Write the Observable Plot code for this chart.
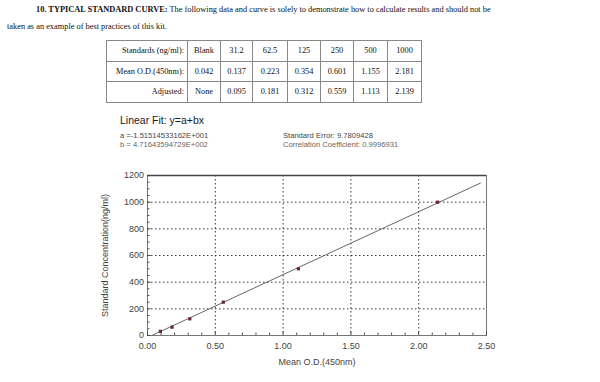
<!DOCTYPE html>
<html>
<head>
<meta charset="utf-8">
<script src="https://cdn.jsdelivr.net/npm/d3@7"></script>
<script src="https://cdn.jsdelivr.net/npm/@observablehq/plot@0.6"></script>
<style>
  html, body { margin: 0; padding: 0; background: #fff; }
  body { width: 600px; height: 382px; position: relative; overflow: hidden; }
  .serif { font-family: "Liberation Serif", "Times New Roman", serif; color: #111; }
  #l1 { position: absolute; left: 36px; top: 5px; font-size: 8.35px; white-space: nowrap; }
  #l2 { position: absolute; left: 7px; top: 22px; font-size: 8.35px; white-space: nowrap; }
  table { position: absolute; left: 106px; top: 40px; border-collapse: collapse; font-size: 8.3px; border: 1px solid #333; }
  td { border: 1px solid #888; height: 19.6px; padding: 0; text-align: center; }
  td.h { text-align: right; padding-right: 3px; }
  .sans { font-family: "Liberation Sans", Arial, sans-serif; color: #222; position: absolute; white-space: nowrap; }
  #fit { left: 120px; top: 114px; font-size: 10.5px; }
  #fa { left: 120px; top: 131px; font-size: 7.6px; color: #444; }
  #fb { left: 120px; top: 140px; font-size: 7.6px; color: #666; }
  #se { left: 283px; top: 131px; font-size: 7.6px; color: #444; }
  #cc { left: 283px; top: 140px; font-size: 7.6px; color: #666; }
  #chart { position: absolute; left: 0; top: 160px; }
</style>
</head>
<body>
<div id="l1" class="serif"><b>10. TYPICAL STANDARD CURVE:</b> The following data and curve is solely to demonstrate how to calculate results and should not be</div>
<div id="l2" class="serif">taken as an example of best practices of this kit.</div>
<table id="tbl" class="serif"></table>
<div id="fit" class="sans">Linear Fit: y=a+bx</div>
<div id="fa" class="sans">a =-1.51514533162E+001</div>
<div id="fb" class="sans">b = 4.71643594729E+002</div>
<div id="se" class="sans">Standard Error: 9.7809428</div>
<div id="cc" class="sans">Correlation Coefficient: 0.9996931</div>
<div id="chart"></div>
<script>
// ---- data ----
const standardLabels = ["Blank", "31.2", "62.5", "125", "250", "500", "1000"];
const meanODLabels = ["0.042", "0.137", "0.223", "0.354", "0.601", "1.155", "2.181"];
const adjustedLabels = ["None", "0.095", "0.181", "0.312", "0.559", "1.113", "2.139"];
const concentrations = [31.2, 62.5, 125, 250, 500, 1000];
const adjustedOD = [0.095, 0.181, 0.312, 0.559, 1.113, 2.139];
// fitted line endpoints
const fitOD = [0.032, 2.455];
const fitConc = [0, 1143];
const xMajorTicks = [0, 0.5, 1, 1.5, 2, 2.5];
const xGridTicks = [0.5, 1, 1.5, 2];
const xMinorTicks = [0.1,0.2,0.3,0.4,0.6,0.7,0.8,0.9,1.1,1.2,1.3,1.4,1.6,1.7,1.8,1.9,2.1,2.2,2.3,2.4];
const yMajorTicks = [0, 200, 400, 600, 800, 1000, 1200];
const yGridTicks = [200, 400, 600, 800, 1000];
const yMinorTicks = [50,100,150,250,300,350,450,500,550,650,700,750,850,900,950,1050,1100,1150];

// ---- table ----
const colW = [77, 32, 31, 34, 32, 32, 33, 33];
const rows = [["Standards (ng/ml):", ...standardLabels], ["Mean O.D.(450nm):", ...meanODLabels], ["Adjusted:", ...adjustedLabels]];
const tbl = document.getElementById("tbl");
rows.forEach(r => {
  const tr = document.createElement("tr");
  r.forEach((c, i) => {
    const td = document.createElement("td");
    td.textContent = c;
    td.style.width = colW[i] + "px";
    if (i === 0) td.className = "h";
    tr.appendChild(td);
  });
  tbl.appendChild(tr);
});

// ---- chart ----
const pts = concentrations.map((c, i) => ({od: adjustedOD[i], conc: c}));
const fit = fitOD.map((x, i) => ({od: x, conc: fitConc[i]}));

const chart = Plot.plot({
  width: 600,
  height: 212,
  marginLeft: 147,
  marginRight: 114,
  marginTop: 15,
  marginBottom: 37,
  x: {domain: [0, 2.5]},
  y: {domain: [0, 1200]},
  style: {fontFamily: "'Liberation Sans', Arial, sans-serif", fontSize: "9px", color: "#444", background: "transparent", overflow: "visible"},
  marks: [
    Plot.gridX(xGridTicks, {stroke: "#222", strokeOpacity: 0.9, strokeDasharray: "1.5,2.5"}),
    Plot.gridY(yGridTicks, {stroke: "#222", strokeOpacity: 0.9, strokeDasharray: "1.5,2.5"}),
    Plot.frame({stroke: "#777"}),
    Plot.ruleY([1200], {stroke: "#444", strokeWidth: 1.4}),
    Plot.axisX(xMinorTicks, {tickSize: -2.5, tickFormat: () => "", label: null, stroke: "#555"}),
    Plot.axisY(yMinorTicks, {tickSize: -2.5, tickFormat: () => "", label: null, stroke: "#555"}),
    Plot.axisX(xMajorTicks, {tickSize: -3.5, tickPadding: 11, tickFormat: d3.format(".2f"), label: "Mean O.D.(450nm)", labelAnchor: "center", labelArrow: "none", labelOffset: 29, stroke: "#444"}),
    Plot.axisY(yMajorTicks, {tickSize: -3.5, tickPadding: 7, tickFormat: d3.format("d"), label: "Standard Concentration(ng/ml)", labelAnchor: "center", labelArrow: "none", labelOffset: 46, stroke: "#444"}),
    Plot.line(fit, {x: "od", y: "conc", stroke: "#666", strokeWidth: 1}),
    Plot.dot(pts, {x: "od", y: "conc", symbol: "square", r: 1.8, fill: "#6b2433", stroke: "none"})
  ]
});
document.getElementById("chart").appendChild(chart);
</script>
</body>
</html>
